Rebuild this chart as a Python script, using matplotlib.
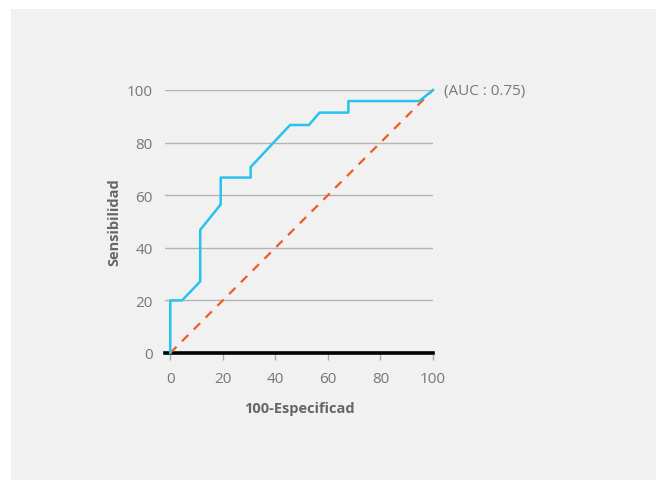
import matplotlib
matplotlib.use('Agg')
import matplotlib.pyplot as plt
from matplotlib.patches import Rectangle

# ROC curve points (100-Especificidad, Sensibilidad)
fpr = [0, 0, 4.5, 11.4, 11.4, 19.2, 19.2, 30.6, 30.6, 45.6, 52.8, 56.8, 67.8, 67.8, 94.8, 100]
tpr = [0, 20, 20, 27.2, 46.8, 56.5, 66.7, 66.7, 70.7, 86.7, 86.7, 91.4, 91.4, 95.8, 95.8, 100]
diag = [0, 100]
xticks = [0, 20, 40, 60, 80, 100]
yticks = [0, 20, 40, 60, 80, 100]
auc_label = '(AUC : 0.75)'

plt.rcParams['font.family'] = ['Open Sans', 'DejaVu Sans']

fig = plt.figure(figsize=(6.56, 4.81), dpi=100)
fig.patch.set_facecolor('white')
fig.patches.append(Rectangle((11 / 656, 0), 1, 1 - 10 / 481, transform=fig.transFigure,
                             facecolor='#f1f1f1', edgecolor='none', zorder=-10))

ax = fig.add_axes([165 / 656, (481 - 354) / 481, 268 / 656, 263 / 481])
ax.set_facecolor('none')
ax.set_xlim(-2, 100)
ax.set_ylim(0, 100)

for y in yticks[1:]:
    ax.axhline(y, color='#b4b4b4', lw=1, zorder=1)
ax.axhline(0, color='black', lw=2.6, zorder=3, clip_on=False)

ax.plot(diag, diag, color='#f05a28', lw=1.6, dashes=(4, 3.5), zorder=4, clip_on=False)
ax.plot(fpr, tpr, color='#29c2ef', lw=1.8, zorder=5, clip_on=False)

for s in ax.spines.values():
    s.set_visible(False)

ax.set_xticks(xticks)
ax.set_yticks(yticks)
ax.tick_params(axis='x', direction='out', length=5, width=1, color='#aaaaaa',
               labelcolor='#777777', labelsize=11, pad=8)
ax.tick_params(axis='y', length=0, labelcolor='#777777', labelsize=11, pad=9)

ax.set_xlabel('100-Especificad', fontsize=10.5, fontweight='bold', color='#666666', labelpad=11)
ax.set_ylabel('Sensibilidad', fontsize=10.5, fontweight='bold', color='#666666', labelpad=4)

ax.text(104, 100, auc_label, ha='left', va='center', fontsize=11, color='#777777')

fig.savefig('out.png', dpi=100)
